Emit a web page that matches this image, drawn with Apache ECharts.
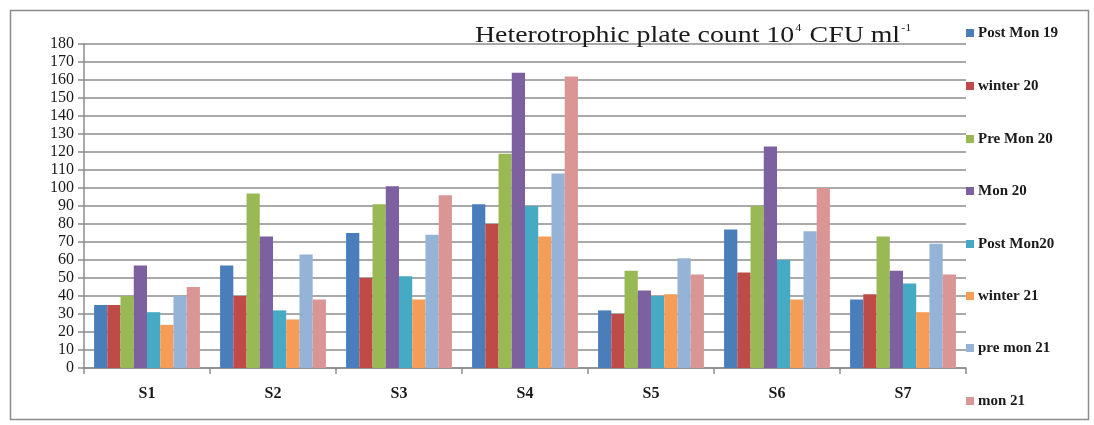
<!DOCTYPE html>
<html>
<head>
<meta charset="utf-8">
<script src="https://cdn.jsdelivr.net/npm/echarts@6/dist/echarts.min.js"></script>
<style>
html,body{margin:0;padding:0;background:#fff;}
#c{width:1094px;height:425px;}
</style>
</head>
<body>
<div id="c"></div>
<script>
const categories = ['S1','S2','S3','S4','S5','S6','S7'];
const seriesNames = ['Post Mon 19','winter 20','Pre Mon 20','Mon 20','Post Mon20','winter 21','pre mon 21','mon 21'];
const postMon19 = [35, 57, 75, 91, 32, 77, 38];
const winter20  = [35, 40, 50, 80, 30, 53, 41];
const preMon20  = [40, 97, 91, 119, 54, 90, 73];
const mon20     = [57, 73, 101, 164, 43, 123, 54];
const postMon20 = [31, 32, 51, 90, 40, 60, 47];
const winter21  = [24, 27, 38, 73, 41, 38, 31];
const preMon21  = [40, 63, 74, 108, 61, 76, 69];
const mon21     = [45, 38, 96, 162, 52, 100, 52];
const yTicks = {min: 0, max: 180, interval: 10};
const colors = ['#4A7EBB','#BE4B48','#98B954','#7D60A0','#46AAC5','#F59D56','#95B3D7','#D99694'];

const values = [postMon19, winter20, preMon20, mon20, postMon20, winter21, preMon21, mon21];
const chart = echarts.init(document.getElementById('c'), null, {renderer: 'canvas'});
const serif = '"Liberation Serif", "DejaVu Serif", serif';

const legendTop = [34, 87, 140, 192, 245, 297, 349, 402];
const graphics = [{
  type: 'rect', left: 8, top: 8, shape: {width: 1078, height: 409},
  style: {fill: 'none', stroke: '#8c8c8c', lineWidth: 1.5}, z: -1
}, {
  type: 'text', x: 475, y: 23, scaleX: 1.21, z: 10,
  style: {
    text: '{a|Heterotrophic plate count 10}{s|4}{a| CFU ml}{s|-1}',
    rich: {
      a: {fontFamily: serif, fontSize: 23, fill: '#1a1a1a', lineHeight: 24, verticalAlign: 'bottom'},
      s: {fontFamily: serif, fontSize: 10, fill: '#1a1a1a', lineHeight: 24, verticalAlign: 'top', padding: [0, 1, 11, 1]}
    }
  }
}];
seriesNames.forEach((n, i) => {
  graphics.push({type: 'rect', left: 966, top: legendTop[i] - 5, shape: {width: 8, height: 8}, style: {fill: colors[i]}});
  graphics.push({type: 'text', left: 978, top: legendTop[i] - 8, style: {text: n, font: 'bold 15px ' + serif, fill: '#1a1a1a'}});
});

chart.setOption({
  animation: false,
  backgroundColor: '#fff',
  color: colors,
  grid: {left: 84, right: 128, top: 44, bottom: 57, containLabel: false},
  xAxis: {
    type: 'category',
    data: categories,
    axisLine: {lineStyle: {color: '#8c8c8c', width: 1.5}},
    axisTick: {show: true, length: 6, lineStyle: {color: '#8c8c8c', width: 1.5}},
    axisLabel: {fontFamily: serif, fontSize: 16, fontWeight: 'bold', color: '#1a1a1a', margin: 18}
  },
  yAxis: {
    type: 'value',
    min: yTicks.min, max: yTicks.max, interval: yTicks.interval,
    axisLine: {show: true, lineStyle: {color: '#8c8c8c', width: 1.5}},
    axisTick: {show: true, length: 6, lineStyle: {color: '#8c8c8c', width: 1.5}},
    axisLabel: {fontFamily: serif, fontSize: 16, color: '#1a1a1a', margin: 10},
    splitLine: {lineStyle: {color: '#8c8c8c', width: 1.5}}
  },
  series: seriesNames.map((n, i) => ({
    name: n, type: 'bar', data: values[i],
    barGap: '0%', barCategoryGap: '16%'
  })),
  graphic: graphics
});
</script>
</body>
</html>
